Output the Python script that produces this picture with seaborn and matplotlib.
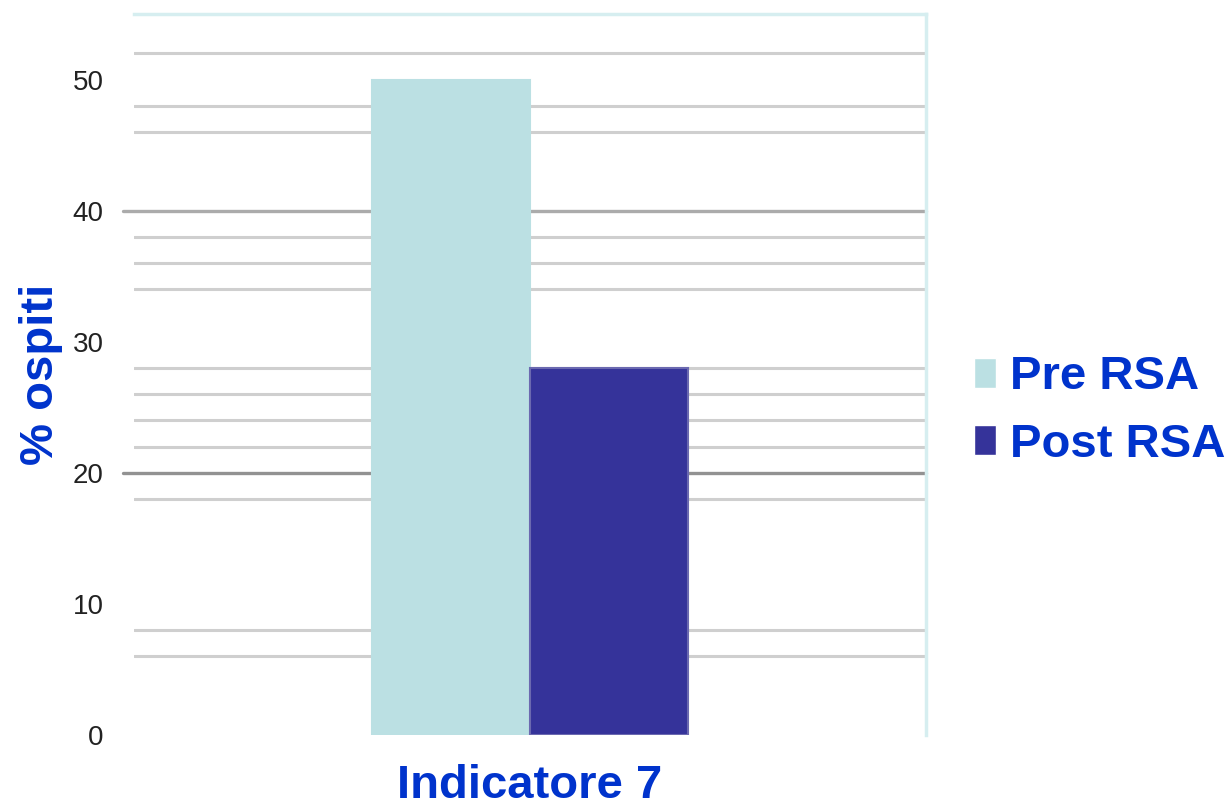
import matplotlib
matplotlib.use("Agg")
import matplotlib.pyplot as plt
import seaborn as sns
import pandas as pd

# Chart data
categories = ["Indicatore 7"]
series = ["Pre RSA", "Post RSA"]
values = [50, 28]
y_ticks = [0, 10, 20, 30, 40, 50]
grid_levels = [52, 48, 46, 38, 36, 34, 28, 26, 24, 22, 18, 8, 6]
major_grid_levels = [40, 20]

df = pd.DataFrame({
    "categoria": [categories[0]] * len(series),
    "serie": series,
    "valore": values,
})

sns.set_theme(style="white")
plt.rcParams["font.family"] = ["Liberation Sans", "DejaVu Sans"]

blue = "#0033CC"
palette = {"Pre RSA": "#BBE0E3", "Post RSA": "#35339A"}

fig = plt.figure(figsize=(12.32, 8.11), dpi=100)
ax = fig.add_axes([134 / 1232, 76 / 811, 792 / 1232, 721 / 811])

# Background gridlines
for g in grid_levels:
    ax.axhline(g, color="#cfcfcf", lw=2.2, zorder=0)
for g, c in zip(major_grid_levels, ["#ababab", "#929292"]):
    ax.axhline(g, xmin=-0.014, xmax=1, color=c, lw=2.4, zorder=0, clip_on=False)

sns.barplot(data=df, x="categoria", y="valore", hue="serie", palette=palette,
            width=0.4, saturation=1, ax=ax, zorder=2, legend=True)

for patch, s in zip(ax.patches, series):
    patch.set_edgecolor("#6b69b0" if s == "Post RSA" else "#BBE0E3")
    patch.set_linewidth(1.5)

ax.set_xlim(-0.5, 0.5)
ax.set_ylim(0, 55)
ax.set_yticks(y_ticks)
ax.set_yticklabels([str(t) for t in y_ticks], fontsize=20, color="#222222")
ax.tick_params(axis="y", length=0, pad=22)
ax.tick_params(axis="x", length=0, pad=21)
for lab in ax.get_xticklabels():
    lab.set_fontsize(34)
    lab.set_fontweight("bold")
    lab.set_color(blue)

ax.set_xlabel("")
ax.set_ylabel("% ospiti", fontsize=34, fontweight="bold", color=blue, labelpad=7)

for side in ["left", "bottom"]:
    ax.spines[side].set_visible(False)
for side in ["top", "right"]:
    ax.spines[side].set_visible(True)
    ax.spines[side].set_color("#d6eef0")
    ax.spines[side].set_linewidth(2.5)

leg = ax.legend(loc="center left", bbox_to_anchor=(974 / 1232, 400 / 811),
                bbox_transform=fig.transFigure, frameon=False,
                handlelength=0.47, handleheight=0.6, handletextpad=0.3,
                labelspacing=0.49, borderpad=0, borderaxespad=0,
                prop={"size": 34, "weight": "bold"})
for t in leg.get_texts():
    t.set_color(blue)

fig.savefig("out.png", dpi=100, facecolor="white")
